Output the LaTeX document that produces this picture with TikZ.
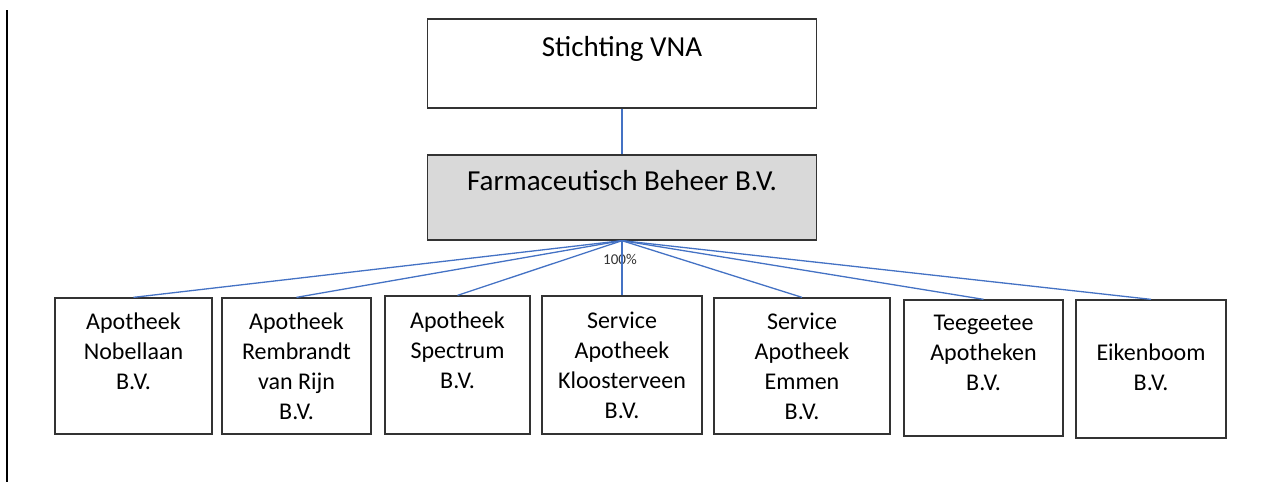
\documentclass[tikz,border=0pt]{standalone}
\usepackage{fontspec}
\setmainfont{Carlito}
\definecolor{lijn}{HTML}{4472C4}
\definecolor{grijs}{HTML}{D9D9D9}
\definecolor{rand}{HTML}{333333}

\begin{document}
\begin{tikzpicture}
[%%%%%%%%%%%%%%%%%%%%%%%%%%%%%%
x=1pt,y=-1pt,
box/.style={rectangle,draw=rand,line width=1.3pt,align=center,inner sep=0pt},
headbox/.style={box,minimum width=389pt,font=\fontsize{29}{35}\selectfont},
bvbox/.style={box,font=\fontsize{24}{30}\selectfont},
tie/.style={draw=lijn,line width=1.3pt},
]%%%%%%%%%%%%%%%%%%%%%%%%%%%%%%

\useasboundingbox (0,0) rectangle (1271,482);
\draw[line width=2pt] (7,10) -- (7,482);

\node[headbox,minimum height=89pt] (vna) at (622,63.5){Stichting VNA\\\mbox{}};
\node[headbox,minimum height=85pt,fill=grijs] (fb) at (622,197.5){Farmaceutisch Beheer B.V.\\\mbox{}};

\node[bvbox,minimum width=157pt,minimum height=136pt] (nobel) at (133.5,366){Apotheek\\Nobellaan\\B.V.\\\mbox{}};
\node[bvbox,minimum width=149pt,minimum height=136pt] (rembrandt) at (296.5,366){Apotheek\\Rembrandt\\van Rijn\\B.V.};
\node[bvbox,minimum width=145pt,minimum height=138pt] (spectrum) at (457.5,365){Apotheek\\Spectrum\\B.V.\\\mbox{}};
\node[bvbox,minimum width=160pt,minimum height=138pt] (kloost) at (622,365){Service\\Apotheek\\Kloosterveen\\B.V.};
\node[bvbox,minimum width=176pt,minimum height=136pt] (emmen) at (802,366){Service\\Apotheek\\Emmen\\B.V.};
\node[bvbox,minimum width=159pt,minimum height=136pt] (teeg) at (983.5,368){Teegeetee\\Apotheken\\B.V.\\\mbox{}};
\node[bvbox,minimum width=150pt,minimum height=138pt] (eiken) at (1151,369){\strut\\Eikenboom\\B.V.\\\strut};

\node[font=\fontsize{15}{18}\selectfont,text=black!80,inner sep=0pt] (pct) at (620,259){100\%};

\draw[tie] (vna.south) -- (fb.north);
\draw[tie] (fb.south) -- (nobel.north);
\draw[tie] (fb.south) -- (rembrandt.north);
\draw[tie] (fb.south) -- (spectrum.north);
\draw[tie] (fb.south) -- (kloost.north);
\draw[tie] (fb.south) -- (emmen.north);
\draw[tie] (fb.south) -- (teeg.north);
\draw[tie] (fb.south) -- (eiken.north);
\end{tikzpicture}
\end{document}
